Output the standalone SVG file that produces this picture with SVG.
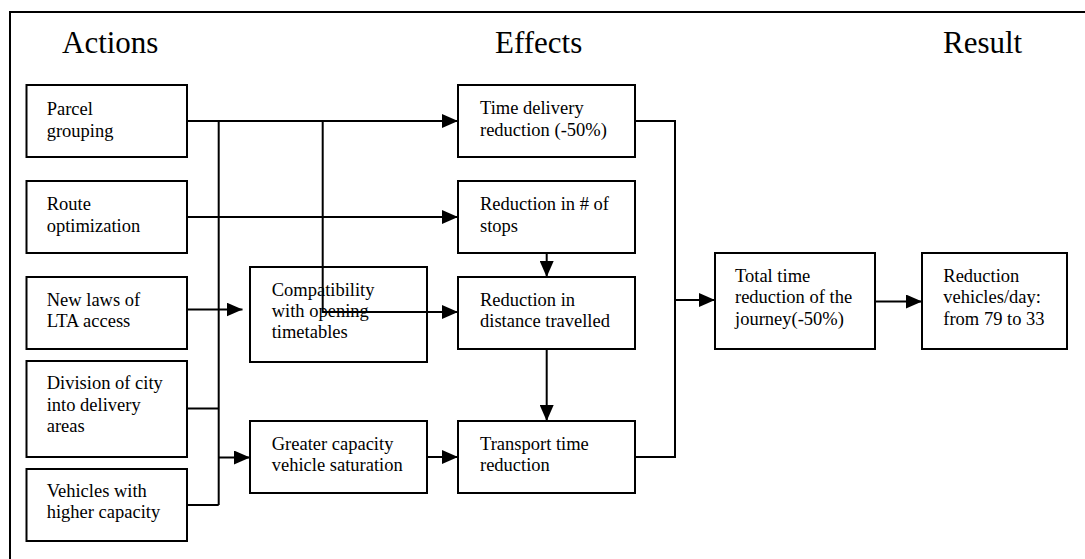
<svg xmlns="http://www.w3.org/2000/svg" width="1085" height="559" viewBox="0 0 1085 559">
  <style>
    .box { fill: #fff; stroke: #000; stroke-width: 2; }
    .t { font-family: "Liberation Serif", "Times New Roman", serif; font-size: 18.5px; fill: #000; }
    .h { font-family: "Liberation Serif", "Times New Roman", serif; font-size: 31px; fill: #000; }
    .c { fill: none; stroke: #000; stroke-width: 2; }
  </style>
  <defs>
    <marker id="arr" viewBox="0 0 16 14" refX="16" refY="7" markerWidth="16" markerHeight="14" markerUnits="userSpaceOnUse" orient="auto">
      <path d="M0,0 L16,7 L0,14 Z" fill="#000"/>
    </marker>
  </defs>
  <rect x="0" y="0" width="1085" height="559" fill="#fff"/>
  <rect x="10" y="12" width="1100" height="600" fill="none" stroke="#000" stroke-width="2"/>

  <g id="headers">
    <text class="h" x="62" y="53">Actions</text>
    <text class="h" x="495" y="53">Effects</text>
    <text class="h" x="943" y="53">Result</text>
  </g>

  <g id="connectors">
    <path class="c" d="M187,121 H458" marker-end="url(#arr)"/>
    <path class="c" d="M218.7,121 V505"/>
    <path class="c" d="M322.7,121 V312 H458" marker-end="url(#arr)"/>
    <path class="c" d="M187,217 H458" marker-end="url(#arr)"/>
    <path class="c" d="M187,309.5 H242.5" marker-end="url(#arr)"/>
    <path class="c" d="M187,408.5 H218.7"/>
    <path class="c" d="M187,505 H218.7"/>
    <path class="c" d="M218.7,457.5 H250" marker-end="url(#arr)"/>
    <path class="c" d="M427,457 H458" marker-end="url(#arr)"/>
    <path class="c" d="M546.7,253 V277" marker-end="url(#arr)"/>
    <path class="c" d="M546.7,349 V421" marker-end="url(#arr)"/>
    <path class="c" d="M635,121 H675 V457 H635"/>
    <path class="c" d="M675,300 H715" marker-end="url(#arr)"/>
    <path class="c" d="M875,301.5 H922" marker-end="url(#arr)"/>
  </g>

  <g id="parcel">
    <rect class="box" x="26.5" y="85" width="160.5" height="72"/>
    <text class="t" x="46.7" y="114.5">Parcel</text>
    <text class="t" x="46.7" y="136.5">grouping</text>
  </g>
  <g id="route">
    <rect class="box" x="26.5" y="181" width="160.5" height="72"/>
    <text class="t" x="46.7" y="209.5">Route</text>
    <text class="t" x="46.7" y="231.5">optimization</text>
  </g>
  <g id="laws">
    <rect class="box" x="26.5" y="277" width="160.5" height="72"/>
    <text class="t" x="46.7" y="305.5">New laws of</text>
    <text class="t" x="46.7" y="327">LTA access</text>
  </g>
  <g id="division">
    <rect class="box" x="26.5" y="361" width="160.5" height="96"/>
    <text class="t" x="46.7" y="389">Division of city</text>
    <text class="t" x="46.7" y="410.5">into delivery</text>
    <text class="t" x="46.7" y="432">areas</text>
  </g>
  <g id="vehicles">
    <rect class="box" x="26.5" y="469" width="160.5" height="72"/>
    <text class="t" x="46.7" y="497">Vehicles with</text>
    <text class="t" x="46.7" y="518">higher capacity</text>
  </g>

  <g id="compat">
    <rect class="box" x="250" y="267" width="177" height="95" style="fill:none"/>
    <text class="t" x="271.7" y="296">Compatibility</text>
    <text class="t" x="271.7" y="317">with opening</text>
    <text class="t" x="271.7" y="337.5">timetables</text>
  </g>
  <g id="greater">
    <rect class="box" x="250" y="421" width="177" height="72"/>
    <text class="t" x="271.7" y="449.5">Greater capacity</text>
    <text class="t" x="271.7" y="471">vehicle saturation</text>
  </g>

  <g id="timedelivery">
    <rect class="box" x="458" y="85" width="177" height="72"/>
    <text class="t" x="480" y="113.5">Time delivery</text>
    <text class="t" x="480" y="135.5">reduction (-50%)</text>
  </g>
  <g id="stops">
    <rect class="box" x="458" y="181" width="177" height="72"/>
    <text class="t" x="480" y="209.5">Reduction in # of</text>
    <text class="t" x="480" y="231.5">stops</text>
  </g>
  <g id="distance">
    <rect class="box" x="458" y="277" width="177" height="72"/>
    <text class="t" x="480" y="305.5">Reduction in</text>
    <text class="t" x="480" y="327">distance travelled</text>
  </g>
  <g id="transport">
    <rect class="box" x="458" y="421" width="177" height="72"/>
    <text class="t" x="480" y="449.5">Transport time</text>
    <text class="t" x="480" y="471">reduction</text>
  </g>

  <g id="total">
    <rect class="box" x="715" y="253" width="160" height="96"/>
    <text class="t" x="735" y="281.5">Total time</text>
    <text class="t" x="735" y="303">reduction of the</text>
    <text class="t" x="735" y="324.5">journey(-50%)</text>
  </g>
  <g id="result">
    <rect class="box" x="922" y="253" width="145" height="96"/>
    <text class="t" x="943.3" y="281.5">Reduction</text>
    <text class="t" x="943.3" y="303">vehicles/day:</text>
    <text class="t" x="943.3" y="324.5">from 79 to 33</text>
  </g>
</svg>
